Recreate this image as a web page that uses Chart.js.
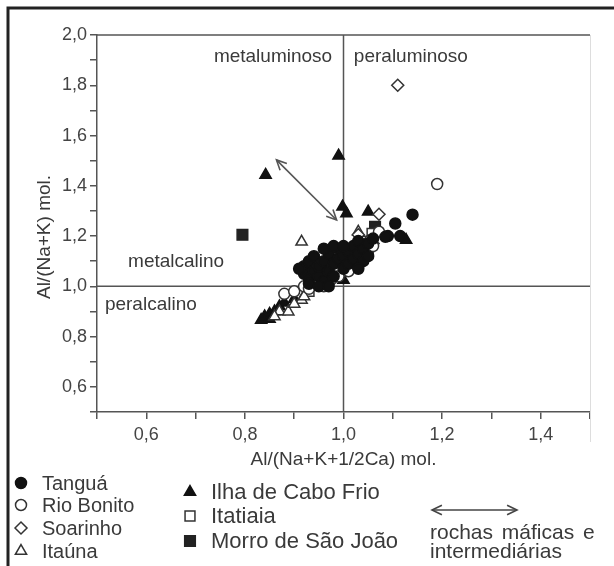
<!DOCTYPE html>
<html>
<head>
<meta charset="utf-8">
<script src="https://cdn.jsdelivr.net/npm/chart.js@4.4.1/dist/chart.umd.min.js"></script>
<style>
  html, body { margin: 0; padding: 0; background: #fff; }
  #wrap { width: 614px; height: 566px; }
</style>
</head>
<body>
<div id="wrap"><canvas id="chart" width="614" height="566"></canvas></div>
<script>
// ---- data ----
const tangua = [
  [0.92, 1.08], [0.93, 1.10], [0.92, 1.05], [0.93, 1.03], [0.94, 1.06], [0.94, 1.12],
  [0.95, 1.04], [0.95, 1.08], [0.96, 1.10], [0.96, 1.02], [0.97, 1.06], [0.97, 1.13],
  [0.98, 1.09], [0.98, 1.04], [0.99, 1.11], [0.99, 1.15], [1.00, 1.07], [1.00, 1.12],
  [1.01, 1.14], [1.01, 1.09], [1.02, 1.16], [1.02, 1.11], [1.03, 1.13], [1.03, 1.18],
  [1.04, 1.15], [1.05, 1.17], [1.04, 1.10], [1.05, 1.12], [0.96, 1.15], [0.98, 1.16],
  [1.00, 1.16], [0.93, 1.01], [0.95, 1.00], [0.97, 1.00], [1.09, 1.20], [1.115, 1.20],
  [1.105, 1.25], [1.14, 1.285], [1.085, 1.197], [1.06, 1.19], [1.03, 1.07], [0.91, 1.07],
];
const rioBonito = [
  [0.88, 0.97], [0.90, 0.98], [0.92, 1.00], [0.93, 0.99], [0.95, 1.01], [0.97, 1.02],
  [0.99, 1.04], [1.01, 1.06], [1.03, 1.08], [1.04, 1.105], [1.05, 1.14], [1.072, 1.217],
  [1.19, 1.407], [1.02, 1.10], [0.99, 1.11], [1.00, 1.13], [1.06, 1.16], [0.96, 1.00],
];
const soarinho = [
  [1.11, 1.80], [1.072, 1.287], [1.05, 1.18], [1.06, 1.17], [1.04, 1.16], [1.03, 1.205],
  [0.98, 1.03], [1.02, 1.12],
];
const itauna = [
  [0.915, 1.177], [0.87, 0.90], [0.888, 0.899], [0.86, 0.88], [0.915, 0.946], [0.90, 0.93],
  [0.92, 0.96], [1.03, 1.217], [0.95, 1.00],
];
const ilhaCaboFrio = [
  [0.842, 1.443], [0.99, 1.52], [0.998, 1.317], [1.006, 1.29], [1.05, 1.297], [1.127, 1.184],
  [1.0, 1.025], [0.833, 0.866], [0.84, 0.88], [0.85, 0.89], [0.86, 0.90], [0.87, 0.92],
  [0.88, 0.935], [0.85, 0.87], [0.90, 0.95], [0.94, 1.04], [0.96, 1.07],
];
const itatiaia = [
  [0.93, 0.98], [1.058, 1.21], [1.04, 1.18],
];
const morroSaoJoao = [
  [0.795, 1.205], [1.064, 1.237],
];

const xTicks = [0.6, 0.8, 1.0, 1.2, 1.4];
const yTicks = [0.6, 0.8, 1.0, 1.2, 1.4, 1.6, 1.8, 2.0];
const arrowEnds = [[0.864, 1.503], [0.986, 1.264]];

const regionLabels = [
  { text: 'metaluminoso', x: 0.977, y: 1.912, align: 'right' },
  { text: 'peraluminoso', x: 1.021, y: 1.912, align: 'left' },
  { text: 'metalcalino', x: 0.563, y: 1.097, align: 'left' },
  { text: 'peralcalino', x: 0.516, y: 0.926, align: 'left' },
];

const FONT = '"Liberation Sans", Arial, Helvetica, sans-serif';
const INK = '#3a3a3a';
const LINE = '#555';

const toPts = (arr) => arr.map(([x, y]) => ({ x, y }));
const fmt = (v) => v.toFixed(1).replace('.', ',');
const isLabelled = (list, v) => list.some((t) => Math.abs(t - v) < 1e-6);

const series = [
  { label: 'Tanguá', data: tangua, pointStyle: 'circle', radius: 5.5, fill: '#111', stroke: '#111' },
  { label: 'Rio Bonito', data: rioBonito, pointStyle: 'circle', radius: 5.5, fill: '#fff', stroke: '#333' },
  { label: 'Soarinho', data: soarinho, pointStyle: 'rectRot', radius: 6, fill: '#fff', stroke: '#333' },
  { label: 'Itaúna', data: itauna, pointStyle: 'triangle', radius: 6.5, fill: '#fff', stroke: '#333' },
  { label: 'Ilha de Cabo Frio', data: ilhaCaboFrio, pointStyle: 'triangle', radius: 6.5, fill: '#111', stroke: '#111' },
  { label: 'Itatiaia', data: itatiaia, pointStyle: 'rect', radius: 7, fill: '#fff', stroke: '#333' },
  { label: 'Morro de São João', data: morroSaoJoao, pointStyle: 'rect', radius: 7.5, fill: '#222', stroke: '#222' },
];

// legend layout
const legendRows = [
  { i: 0, x: 21, y: 483, size: 20 }, { i: 1, x: 21, y: 505, size: 20 },
  { i: 2, x: 21, y: 528, size: 20 }, { i: 3, x: 21, y: 551, size: 20 },
  { i: 4, x: 190, y: 492, size: 22 }, { i: 5, x: 190, y: 516, size: 22 },
  { i: 6, x: 190, y: 541, size: 22 },
];

function drawArrowHead(ctx, x, y, ang, len) {
  ctx.beginPath();
  ctx.moveTo(x + len * Math.cos(ang + 0.45), y + len * Math.sin(ang + 0.45));
  ctx.lineTo(x, y);
  ctx.lineTo(x + len * Math.cos(ang - 0.45), y + len * Math.sin(ang - 0.45));
  ctx.stroke();
}

function doubleArrow(ctx, x1, y1, x2, y2) {
  ctx.beginPath();
  ctx.moveTo(x1, y1);
  ctx.lineTo(x2, y2);
  ctx.stroke();
  const a = Math.atan2(y2 - y1, x2 - x1);
  drawArrowHead(ctx, x1, y1, a, 11);
  drawArrowHead(ctx, x2, y2, a + Math.PI, 11);
}

const decorPlugin = {
  id: 'decor',
  beforeDatasetsDraw(chart) {
    const { ctx, chartArea: ca, scales: { x, y } } = chart;
    ctx.save();
    ctx.strokeStyle = LINE;
    ctx.lineWidth = 1.5;
    // frame top and the two divider lines
    ctx.beginPath();
    ctx.moveTo(ca.left, y.getPixelForValue(2.0));
    ctx.lineTo(ca.right, y.getPixelForValue(2.0));
    ctx.moveTo(ca.left, y.getPixelForValue(1.0));
    ctx.lineTo(ca.right, y.getPixelForValue(1.0));
    ctx.moveTo(x.getPixelForValue(1.0), ca.top);
    ctx.lineTo(x.getPixelForValue(1.0), ca.bottom);
    ctx.stroke();
    // faint right edge
    ctx.strokeStyle = '#ddd';
    ctx.lineWidth = 1;
    ctx.beginPath();
    ctx.moveTo(ca.right + 0.5, ca.top);
    ctx.lineTo(ca.right + 0.5, ca.bottom + 30);
    ctx.stroke();

    // region labels
    ctx.fillStyle = INK;
    ctx.font = '19px ' + FONT;
    ctx.textBaseline = 'middle';
    regionLabels.forEach((r) => {
      ctx.textAlign = r.align;
      ctx.fillText(r.text, x.getPixelForValue(r.x), y.getPixelForValue(r.y));
    });

    // arrow in the plot
    ctx.strokeStyle = '#555';
    ctx.lineWidth = 1.6;
    doubleArrow(ctx,
      x.getPixelForValue(arrowEnds[0][0]), y.getPixelForValue(arrowEnds[0][1]),
      x.getPixelForValue(arrowEnds[1][0]), y.getPixelForValue(arrowEnds[1][1]));
    ctx.restore();
  },
  afterDraw(chart) {
    const { ctx } = chart;
    ctx.save();
    // outer frame (image is cropped on the right and bottom)
    ctx.strokeStyle = '#222';
    ctx.lineWidth = 3;
    ctx.beginPath();
    ctx.moveTo(8, 566);
    ctx.lineTo(8, 8);
    ctx.lineTo(614, 8);
    ctx.stroke();

    // y axis title
    ctx.fillStyle = INK;
    ctx.font = '19px ' + FONT;
    ctx.textAlign = 'center';
    ctx.textBaseline = 'middle';
    ctx.translate(45, 237);
    ctx.rotate(-Math.PI / 2);
    ctx.fillText('Al/(Na+K) mol.', 0, 0);
    ctx.setTransform(1, 0, 0, 1, 0, 0);

    // legend
    ctx.textAlign = 'left';
    ctx.textBaseline = 'middle';
    legendRows.forEach((row) => {
      const s = series[row.i];
      ctx.fillStyle = s.fill;
      ctx.strokeStyle = s.stroke;
      ctx.lineWidth = 1.5;
      Chart.helpers.drawPoint(ctx, {
        pointStyle: s.pointStyle, radius: s.radius, rotation: 0, borderWidth: 1.5,
      }, row.x, row.y);
      ctx.fillStyle = INK;
      ctx.font = row.size + 'px ' + FONT;
      ctx.fillText(s.label, row.x + 21, row.y + 1);
    });

    // legend arrow and note
    ctx.strokeStyle = '#444';
    ctx.lineWidth = 1.6;
    doubleArrow(ctx, 432, 510, 517, 510);
    ctx.fillStyle = INK;
    ctx.font = '21px ' + FONT;
    ctx.wordSpacing = '3px';
    ctx.fillText('rochas máficas e', 430, 533);
    ctx.wordSpacing = '0px';
    ctx.fillText('intermediárias', 430, 552);
    ctx.restore();
  },
};

Chart.defaults.font.family = FONT;
Chart.defaults.color = INK;

new Chart(document.getElementById('chart'), {
  type: 'scatter',
  data: {
    datasets: series.map((s) => ({
      label: s.label,
      data: toPts(s.data),
      pointStyle: s.pointStyle,
      pointRadius: s.radius,
      pointHoverRadius: s.radius,
      backgroundColor: s.fill,
      borderColor: s.stroke,
      borderWidth: 1.5,
    })),
  },
  options: {
    responsive: false,
    animation: false,
    events: [],
    layout: { padding: { left: 0, top: 35, right: 24, bottom: 0 } },
    plugins: { legend: { display: false }, tooltip: { enabled: false } },
    scales: {
      x: {
        type: 'linear',
        min: 0.5,
        max: 1.5,
        afterFit: (s) => { s.height = 154; },
        border: { display: true, color: LINE, width: 1.5 },
        grid: { drawOnChartArea: false, drawTicks: true, tickLength: 7, color: LINE, lineWidth: 1.5 },
        ticks: {
          stepSize: 0.1,
          autoSkip: false,
          maxRotation: 0,
          padding: 5,
          font: { size: 18 },
          color: '#444',
          callback: (v) => (isLabelled(xTicks, v) ? fmt(v) : ''),
        },
        title: {
          display: true,
          text: 'Al/(Na+K+1/2Ca) mol.',
          font: { size: 19 },
          color: INK,
          padding: { top: 0, bottom: 95 },
        },
      },
      y: {
        type: 'linear',
        min: 0.5,
        max: 2.0,
        afterFit: (s) => { s.width = 97; },
        border: { display: true, color: LINE, width: 1.5 },
        grid: { drawOnChartArea: false, drawTicks: true, tickLength: 7, color: LINE, lineWidth: 1.5 },
        ticks: {
          stepSize: 0.1,
          autoSkip: false,
          padding: 3,
          font: { size: 18 },
          color: '#444',
          callback: (v) => (isLabelled(yTicks, v) ? fmt(v) : ''),
        },
      },
    },
  },
  plugins: [decorPlugin],
});
</script>
</body>
</html>
